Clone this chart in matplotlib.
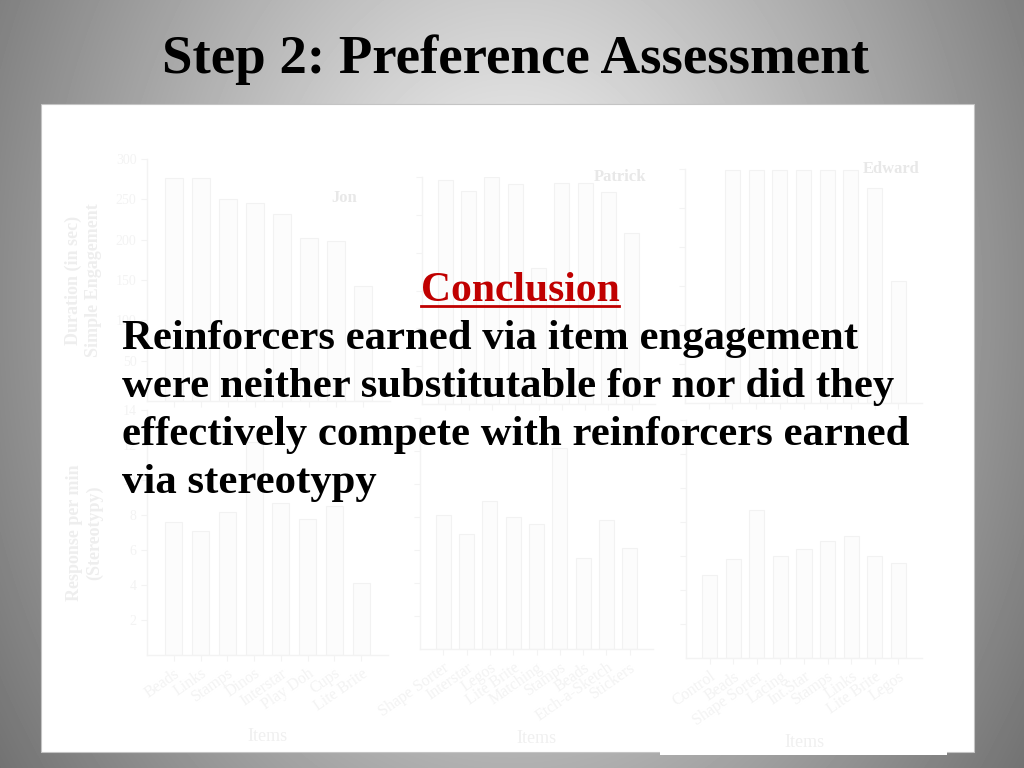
import numpy as np
import matplotlib
matplotlib.use("Agg")
import matplotlib.pyplot as plt
from matplotlib.patches import Rectangle
from matplotlib.lines import Line2D

# ---------------- data ----------------
title_text = "Step 2: Preference Assessment"
conclusion_head = "Conclusion"
conclusion_lines = [
    "Reinforcers earned via item engagement",
    "were neither substitutable for nor did they",
    "effectively compete with reinforcers earned",
    "via stereotypy",
]

jon_items = ['Beads', 'Links', 'Stamps', 'Dinos', 'Interstar', 'Play Doh', 'Cups', 'Lite Brite']
jon_engage = [276, 276, 250, 245, 232, 202, 198, 142]
jon_stereo = [7.6, 7.1, 8.2, 12.2, 8.7, 7.8, 8.5, 4.1]

patrick_items = ['Shape Sorter', 'Interstar', 'Legos', 'Lite Brite', 'Matching', 'Stamps',
                 'Beads', 'Etch-a-Sketch', 'Stickers']
patrick_engage = [296, 281, 300, 291, 180, 292, 292, 280, 226]
patrick_stereo = [8.1, 7.0, 9.0, 8.0, 7.6, 12.2, 5.5, 7.8, 6.1]

edward_items = ['Control', 'Beads', 'Shape Sorter', 'Lacing', 'Int.Star', 'Stamps', 'Links',
                'Lite Brite', 'Legos']
edward_engage = [0, 299, 299, 299, 299, 299, 299, 276, 156]
edward_stereo = [4.9, 5.8, 8.7, 6.0, 6.4, 6.9, 7.2, 6.0, 5.6]

engage_ticks = [50, 100, 150, 200, 250, 300]
stereo_ticks = [2, 4, 6, 8, 10, 12, 14]

# ---------------- figure ----------------
W, H = 1024, 768
fig = plt.figure(figsize=(W / 100, H / 100), dpi=100)

bg = fig.add_axes([0, 0, 1, 1], zorder=0)
bg.set_xlim(0, W)
bg.set_ylim(H, 0)
bg.axis('off')
yy, xx = np.mgrid[0:H, 0:W]
r = np.sqrt(((xx - 512) / 450.0) ** 2 + ((yy - 300) / 600.0) ** 2)
v = np.clip(1.0 - 0.4 * r, 0, 1)
bg.imshow(v, cmap='gray', vmin=0, vmax=1, extent=(0, W, H, 0), aspect='auto',
          interpolation='bilinear')
bg.add_patch(Rectangle((41, 104), 933, 648, facecolor='white', edgecolor='#c4c4c4', lw=0.8))
bg.add_patch(Rectangle((660, 700), 287, 55, facecolor='white', edgecolor='none'))


def px_axes(left, right, top, bottom):
    return fig.add_axes([left / W, 1 - bottom / H, (right - left) / W, (bottom - top) / H], zorder=1)


FAINT_TXT = '#f0f0f0'
AX_COL = '#f3f3f3'
BAR_FC = '#fcfcfc'
BAR_EC = '#f2f2f2'
SERIF = ['Liberation Serif', 'DejaVu Serif']


def style(ax, n, items, yticks, show_ylabels, ymax):
    ax.set_facecolor('none')
    ax.set_xlim(0, n + 1)
    ax.set_ylim(0, ymax)
    for s in ['top', 'right']:
        ax.spines[s].set_visible(False)
    for s in ['left', 'bottom']:
        ax.spines[s].set_color(AX_COL)
        ax.spines[s].set_linewidth(1.0)
    ax.set_xticks(np.arange(1, n + 1))
    if items is not None:
        ax.set_xticklabels(items, rotation=35, ha='right', rotation_mode='anchor',
                           fontsize=11.5, color=FAINT_TXT, family=SERIF)
    else:
        ax.set_xticklabels([])
    ax.set_yticks(yticks)
    if show_ylabels:
        ax.set_yticklabels([str(t) for t in yticks], fontsize=10, color='#ebebeb', family=SERIF)
    else:
        ax.set_yticklabels([])
    ax.tick_params(axis='both', colors=AX_COL, length=4, width=0.8)


def bars(ax, vals):
    x = np.arange(1, len(vals) + 1)
    ax.bar(x, vals, width=0.64, color=BAR_FC, edgecolor=BAR_EC, linewidth=0.8)


# top row
a1 = px_axes(147, 390, 159, 401)
bars(a1, jon_engage)
style(a1, 8, None, engage_ticks, True, 300)
a1.text(0.81, 0.84, 'Jon', transform=a1.transAxes, fontsize=12, color='#e8e8e8',
        weight='bold', family=SERIF, ha='center', va='center')
a1.set_ylabel('Duration (in sec)\nSimple Engagement', fontsize=13, color='#eeeeee',
              family=SERIF, weight='bold', labelpad=10)

a2 = px_axes(422, 655, 177, 404)
bars(a2, patrick_engage)
style(a2, 9, None, engage_ticks, False, 300)
a2.text(0.85, 1.0, 'Patrick', transform=a2.transAxes, fontsize=12, color='#e8e8e8',
        weight='bold', family=SERIF, ha='center', va='center')

a3 = px_axes(685, 922, 169, 403)
bars(a3, edward_engage)
style(a3, 9, None, engage_ticks, False, 300)
a3.text(0.87, 1.0, 'Edward', transform=a3.transAxes, fontsize=12, color='#e8e8e8',
        weight='bold', family=SERIF, ha='center', va='center')

# bottom row
b1 = px_axes(147, 388, 410, 655)
bars(b1, jon_stereo)
style(b1, 8, jon_items, stereo_ticks, True, 14)
b1.set_ylabel('Response per min\n(Stereotypy)', fontsize=13, color='#eeeeee',
              family=SERIF, weight='bold', labelpad=14)
b1.set_xlabel('Items', fontsize=13, color=FAINT_TXT, family=SERIF, labelpad=10)

b2 = px_axes(420, 653, 418, 649)
bars(b2, patrick_stereo)
style(b2, 9, patrick_items, stereo_ticks, False, 14)
b2.set_xlabel('Items', fontsize=13, color=FAINT_TXT, family=SERIF, labelpad=4)

b3 = px_axes(686, 922, 420, 658)
bars(b3, edward_stereo)
style(b3, 9, edward_items, stereo_ticks, False, 14)
b3.set_xlabel('Items', fontsize=13, color=FAINT_TXT, family=SERIF, labelpad=4)

# overlay text
ov = fig.add_axes([0, 0, 1, 1], zorder=5)
ov.set_xlim(0, W)
ov.set_ylim(H, 0)
ov.axis('off')
ov.patch.set_alpha(0)

ov.text(516, 73, title_text, fontsize=39.5, weight='bold', family=SERIF,
        ha='center', va='baseline', color='black')
head = ov.text(520, 301, conclusion_head, fontsize=30, weight='bold', family=SERIF,
               ha='center', va='baseline', color='#c00000')
for i, line in enumerate(conclusion_lines):
    ov.text(122, 349 + 48 * i, line, fontsize=30.8, weight='bold', family=SERIF,
            ha='left', va='baseline', color='black')

fig.canvas.draw()
bb = head.get_window_extent()
inv = ov.transData.inverted()
(x0, _), (x1, _) = inv.transform([(bb.x0, bb.y0), (bb.x1, bb.y0)])
ov.add_line(Line2D([x0, x1], [306, 306], color='#c00000', lw=2))

fig.savefig('out.png', dpi=100)
